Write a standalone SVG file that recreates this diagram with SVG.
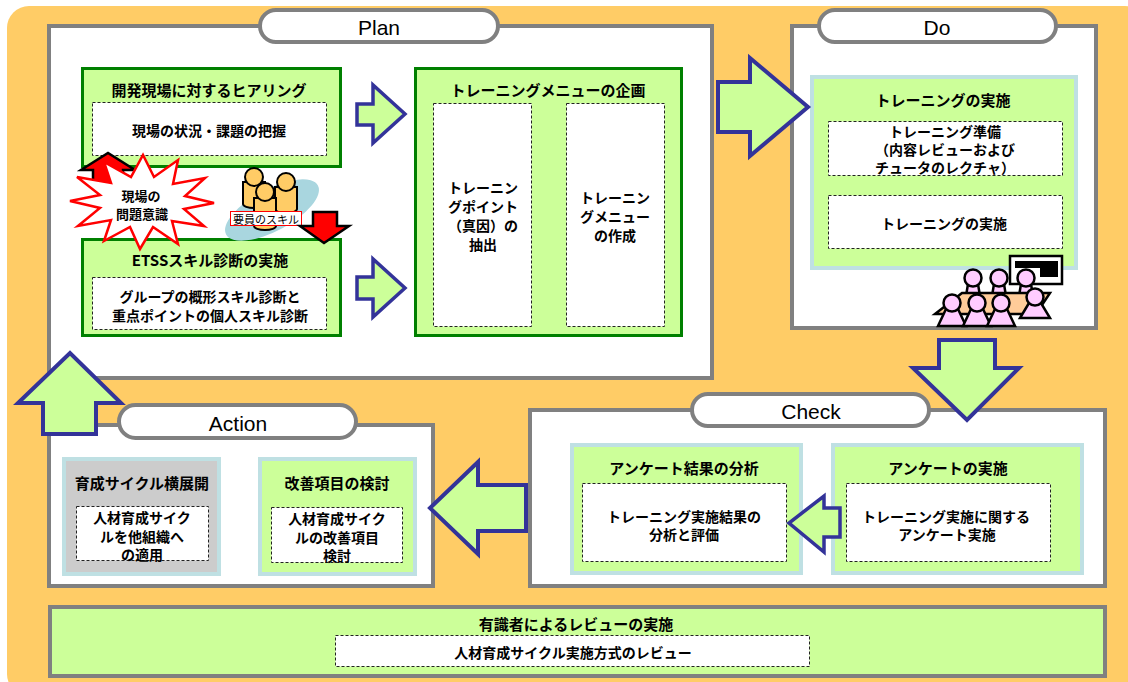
<svg xmlns="http://www.w3.org/2000/svg" width="1128" height="682" viewBox="0 0 1128 682">
  <style>
    .jp { font-family: "Noto Sans CJK JP", "Liberation Sans", sans-serif; font-weight: 700; fill: #000; text-anchor: middle; dominant-baseline: central; }
    .t15 { font-size: 15px; }
    .t14 { font-size: 14px; }
    .t13 { font-size: 13px; }
    .phase { fill: #fff; stroke: #808080; stroke-width: 4; }
    .pill { fill: #fff; stroke: #808080; stroke-width: 4; }
    .pilltext { font-family: "Liberation Sans", Arial, sans-serif; font-size: 21px; fill: #000; text-anchor: middle; dominant-baseline: central; }
    .gbox { fill: #ccff99; stroke: #008000; stroke-width: 3; }
    .bbox { fill: #ccff99; stroke: #bfe0e3; stroke-width: 4; }
    .graybox { fill: #cccccc; stroke: #bfe0e3; stroke-width: 4; }
    .dash { fill: #fff; stroke: #222; stroke-width: 1; stroke-dasharray: 3 2; }
    .big { fill: #ccff99; stroke: #333399; stroke-width: 4; stroke-linejoin: miter; }
    .small { fill: #ccff99; stroke: #333399; stroke-width: 3.5; stroke-linejoin: miter; }
    .red { fill: #ff0000; stroke: #000; stroke-width: 2.5; stroke-linejoin: miter; }
    .pink { fill: #ffccff; stroke: #000; stroke-width: 2.5; }
    .yel { fill: #ffcc66; stroke: #000; stroke-width: 2; }
  </style>

  <!-- backdrop -->
  <rect x="7" y="6" width="1140" height="690" rx="22" fill="#ffcc66"/>

  <!-- Plan phase -->
  <g id="plan">
    <rect class="phase" x="49" y="26" width="663" height="352"/>
    <rect class="pill" x="260" y="10" width="238" height="32" rx="16"/>
    <text class="pilltext" x="379" y="27">Plan</text>
  </g>

  <g id="hearing">
    <rect class="gbox" x="82.5" y="68.5" width="258" height="98"/>
    <text class="jp t15" x="209" y="89">開発現場に対するヒアリング</text>
    <rect class="dash" x="92.5" y="102.5" width="234" height="53"/>
    <text class="jp t14" x="209" y="130">現場の状況・課題の把握</text>
  </g>

  <g id="etss">
    <rect class="gbox" x="82.5" y="239.5" width="258" height="96"/>
    <text class="jp t15" x="210" y="259">ETSSスキル診断の実施</text>
    <rect class="dash" x="92.5" y="277.5" width="234" height="52"/>
    <text class="jp t14" x="210" y="296">グループの概形スキル診断と</text>
    <text class="jp t14" x="210" y="315">重点ポイントの個人スキル診断</text>
  </g>

  <g id="menu-plan">
    <rect class="gbox" x="415.5" y="68.5" width="266" height="267"/>
    <text class="jp t15" x="548" y="89">トレーニングメニューの企画</text>
    <rect class="dash" x="433.5" y="103.5" width="98" height="223"/>
    <text class="jp t14" x="483" y="187">トレーニン</text>
    <text class="jp t14" x="483" y="206">グポイント</text>
    <text class="jp t14" x="483" y="225">（真因）の</text>
    <text class="jp t14" x="483" y="244">抽出</text>
    <rect class="dash" x="566.5" y="103.5" width="98" height="223"/>
    <text class="jp t14" x="615" y="197">トレーニン</text>
    <text class="jp t14" x="615" y="216">グメニュー</text>
    <text class="jp t14" x="615" y="235">の作成</text>
  </g>

  <!-- staff skill figure -->
  <g id="staff">
    <ellipse cx="272" cy="210" rx="52" ry="21" transform="rotate(-28 272 210)" fill="#a9d6df"/>
    <path class="yel" d="M243,182 L243,204 A11,4 0 0 0 265,204 L265,182 Z"/>
    <circle class="yel" cx="254" cy="177" r="9"/>
    <path class="yel" d="M275,187 L275,209 A11,4 0 0 0 297,209 L297,187 Z"/>
    <circle class="yel" cx="286" cy="182" r="9"/>
    <path class="yel" d="M254,198 L254,226 A11,4 0 0 0 276,226 L276,198 Z"/>
    <circle class="yel" cx="265" cy="192" r="9"/>
    <rect x="230.5" y="211.5" width="71" height="14" fill="#fff" stroke="#ff0000" stroke-width="1"/>
    <text x="266" y="219" font-family="Noto Sans CJK JP, sans-serif" font-size="11" text-anchor="middle" dominant-baseline="central" fill="#000">要員のスキル</text>
  </g>

  <!-- awareness burst -->
  <g id="awareness">
    <polygon class="red" points="93,187 93,170 81,170 108,153 135,170 123,170 123,187"/>
    <polygon fill="#fff" stroke="#ff0000" stroke-width="2.5" stroke-linejoin="miter"
      points="214,203 184,209 204,226 172,221 178,244 153,227 140,249 130,227 104,241 111,220 78,226 100,208 70,201 100,195 77,177 111,183 104,162 131,177 143,155 154,177 178,160 173,184 205,178 185,196"/>
    <text class="jp t13" x="141" y="195">現場の</text>
    <text class="jp t13" x="142" y="213">問題意識</text>
  </g>

  <g id="skill-arrow">
    <polygon class="red" points="313,212 337,212 337,226 349,226 324,243 300,226 313,226"/>
  </g>

  <!-- Do phase -->
  <g id="do">
    <rect class="phase" x="792" y="26" width="304" height="302"/>
    <rect class="pill" x="819" y="10" width="237" height="32" rx="16"/>
    <text class="pilltext" x="937" y="27">Do</text>
  </g>

  <g id="training">
    <rect class="bbox" x="812" y="77" width="264" height="191"/>
    <text class="jp t15" x="943" y="99">トレーニングの実施</text>
    <rect class="dash" x="828.5" y="121.5" width="234" height="54"/>
    <text class="jp t14" x="945" y="131">トレーニング準備</text>
    <text class="jp t14" x="945" y="149">（内容レビューおよび</text>
    <text class="jp t14" x="945" y="167">チュータのレクチャ）</text>
    <rect class="dash" x="828.5" y="195.5" width="234" height="53"/>
    <text class="jp t14" x="944" y="223">トレーニングの実施</text>
  </g>

  <!-- classroom figure -->
  <g id="classroom">
    <rect x="1010" y="256" width="52" height="28" fill="#fff" stroke="#000" stroke-width="2.5"/>
    <path d="M1015,261 H1058 V277 H1040 V268 H1015 Z" fill="#000"/>
    <path class="pink" d="M966,296 L980,296 L978,284 L968,284 Z"/>
    <circle class="pink" cx="973" cy="278" r="8.5"/>
    <path class="pink" d="M992,296 L1006,296 L1004,284 L994,284 Z"/>
    <circle class="pink" cx="999" cy="278" r="8.5"/>
    <path class="pink" d="M1019,296 L1033,296 L1031,284 L1021,284 Z"/>
    <circle class="pink" cx="1026" cy="278" r="8.5"/>
    <polygon points="935,314 962,293 1050,293 1036,314" fill="#ffcc99" stroke="#000" stroke-width="2.5"/>
    <path class="pink" d="M1029,303 L1020,318 L1050,318 L1041,303 Z"/>
    <circle class="pink" cx="1035" cy="297" r="8.5"/>
    <path class="pink" d="M946,309 L938,326 L966,326 L958,309 Z"/>
    <circle class="pink" cx="952" cy="303" r="8.5"/>
    <path class="pink" d="M971,309 L963,326 L991,326 L983,309 Z"/>
    <circle class="pink" cx="977" cy="303" r="8.5"/>
    <path class="pink" d="M995,309 L987,326 L1015,326 L1007,309 Z"/>
    <circle class="pink" cx="1001" cy="303" r="8.5"/>
  </g>

  <!-- Check phase -->
  <g id="check">
    <rect class="phase" x="530" y="410" width="575" height="176"/>
    <rect class="pill" x="692" y="394" width="237" height="32" rx="16"/>
    <text class="pilltext" x="811" y="411">Check</text>
  </g>

  <g id="analysis">
    <rect class="bbox" x="572" y="445" width="229" height="128"/>
    <text class="jp t15" x="684" y="467">アンケート結果の分析</text>
    <rect class="dash" x="582.5" y="483.5" width="204" height="78"/>
    <text class="jp t14" x="684" y="516">トレーニング実施結果の</text>
    <text class="jp t14" x="684" y="534">分析と評価</text>
  </g>

  <g id="survey">
    <rect class="bbox" x="833" y="445" width="249" height="128"/>
    <text class="jp t15" x="948" y="467">アンケートの実施</text>
    <rect class="dash" x="846.5" y="483.5" width="204" height="78"/>
    <text class="jp t14" x="946" y="516">トレーニング実施に関する</text>
    <text class="jp t14" x="947" y="534">アンケート実施</text>
  </g>

  <!-- Action phase -->
  <g id="action">
    <rect class="phase" x="49" y="425" width="384" height="161"/>
    <rect class="pill" x="119" y="405" width="237" height="33" rx="16.5"/>
    <text class="pilltext" x="238" y="423">Action</text>
  </g>

  <g id="rollout">
    <rect class="graybox" x="64" y="459" width="155" height="115"/>
    <text class="jp t15" x="142" y="482">育成サイクル横展開</text>
    <rect class="dash" x="76.5" y="506.5" width="132" height="54"/>
    <text class="jp t14" x="142" y="517">人材育成サイク</text>
    <text class="jp t14" x="142" y="536">ルを他組織へ</text>
    <text class="jp t14" x="142" y="554">の適用</text>
  </g>

  <g id="improve">
    <rect class="bbox" x="260" y="459" width="155" height="115"/>
    <text class="jp t15" x="337" y="482">改善項目の検討</text>
    <rect class="dash" x="271.5" y="507.5" width="131" height="55"/>
    <text class="jp t14" x="337" y="518">人材育成サイク</text>
    <text class="jp t14" x="337" y="537">ルの改善項目</text>
    <text class="jp t14" x="337" y="555">検討</text>
  </g>

  <!-- expert review band -->
  <g id="review">
    <rect x="50" y="607" width="1055" height="69" fill="#ccff99" stroke="#808080" stroke-width="4"/>
    <text class="jp t15" x="576" y="623">有識者によるレビューの実施</text>
    <rect class="dash" x="335.5" y="635.5" width="474" height="31"/>
    <text class="jp t14" x="573" y="652">人材育成サイクル実施方式のレビュー</text>
  </g>

  <!-- flow arrows -->
  <g id="connectors">
    <polygon class="small" points="357,104 373,104 373,85 405,114 373,143 373,125 357,125"/>
    <polygon class="small" points="357,277 373,277 373,259 405,288 373,317 373,299 357,299"/>
    <polygon class="big" points="718,82 750,82 750,58 808,107 750,156 750,132 718,132"/>
    <polygon class="big" points="939,340 995,340 995,368 1019,368 967,420 913,368 939,368"/>
    <polygon class="small" points="840,508 824,508 824,496 789,523 824,552 824,537 840,537"/>
    <polygon class="big" points="526,485 478,485 478,462 430,508 478,554 478,531 526,531"/>
    <polygon class="big" points="43,434 43,403 18,403 70,353 121,403 96,403 96,434"/>
  </g>
</svg>
